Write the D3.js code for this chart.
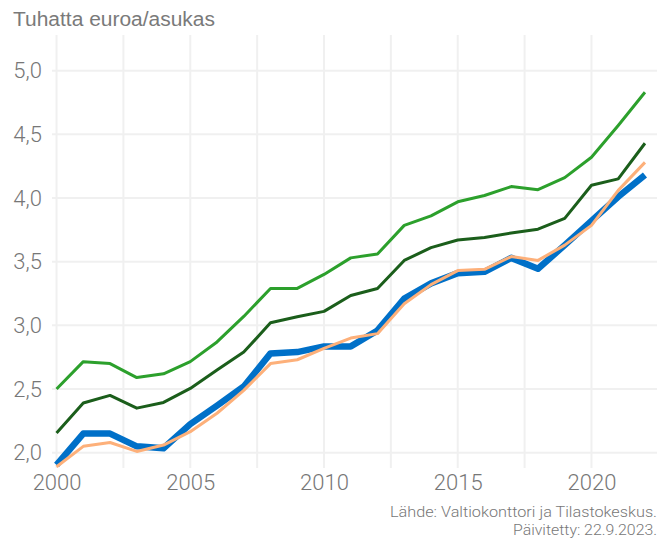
<!DOCTYPE html>
<html>
<head>
<meta charset="utf-8">
<script src="https://cdn.jsdelivr.net/npm/d3@7"></script>
<style>
  body { margin: 0; background: #fff; }
  svg { display: block; }
</style>
</head>
<body>
<div id="chart"></div>
<script>
// Vuodet ja sarjat
const years = d3.range(2000, 2023);
const seriesLightGreen = [2.50, 2.715, 2.70, 2.59, 2.62, 2.715, 2.87, 3.07, 3.29, 3.29, 3.40, 3.53, 3.56, 3.785, 3.86, 3.97, 4.02, 4.09, 4.065, 4.16, 4.32, 4.57, 4.83];
const seriesDarkGreen = [2.155, 2.39, 2.45, 2.35, 2.395, 2.505, 2.65, 2.79, 3.02, 3.067, 3.11, 3.235, 3.29, 3.51, 3.61, 3.67, 3.69, 3.725, 3.755, 3.84, 4.10, 4.15, 4.43];
const seriesBlue = [1.905, 2.15, 2.15, 2.05, 2.035, 2.225, 2.37, 2.52, 2.78, 2.79, 2.835, 2.835, 2.96, 3.21, 3.33, 3.41, 3.42, 3.53, 3.445, 3.63, 3.82, 4.01, 4.18];
const seriesPeach = [1.89, 2.05, 2.08, 2.01, 2.06, 2.165, 2.31, 2.49, 2.70, 2.73, 2.82, 2.90, 2.935, 3.17, 3.32, 3.43, 3.44, 3.54, 3.51, 3.63, 3.785, 4.06, 4.28];
const yTicks = [2.0, 2.5, 3.0, 3.5, 4.0, 4.5, 5.0];
const xTicks = [2000, 2005, 2010, 2015, 2020];
const xMinor = [2002.5, 2007.5, 2012.5, 2017.5];

const W = 666, H = 541;
const panel = {left: 52, right: 657, top: 35, bottom: 468};

const svg = d3.select("#chart").append("svg")
    .attr("width", W)
    .attr("height", H);

let x = d3.scaleLinear()
    .domain([1999.83, 2022.45])
    .range([panel.left, panel.right]);

let y = d3.scaleLinear()
    .domain([1.88, 5.28])
    .range([panel.bottom, panel.top]);

// Ruudukko
svg.append("g")
    .selectAll("line")
    .data(xTicks.concat(xMinor))
    .join("line")
        .attr("x1", d => x(d)).attr("x2", d => x(d))
        .attr("y1", panel.top).attr("y2", panel.bottom)
        .attr("stroke", "#f0f0f0")
        .attr("stroke-width", 2);

svg.append("g")
    .selectAll("line")
    .data(yTicks)
    .join("line")
        .attr("x1", panel.left).attr("x2", panel.right)
        .attr("y1", d => y(d)).attr("y2", d => y(d))
        .attr("stroke", "#f0f0f0")
        .attr("stroke-width", 2);

// Akselit
const fmt = d => d3.format(".1f")(d).replace(".", ",");

let yAxis = svg.append("g")
    .attr("transform", "translate(" + panel.left + ",0)")
    .call(d3.axisLeft(y).tickValues(yTicks).tickFormat(fmt).tickSize(0).tickPadding(10));

let xAxis = svg.append("g")
    .attr("transform", "translate(0," + panel.bottom + ")")
    .call(d3.axisBottom(x).tickValues(xTicks).tickFormat(d3.format("d")).tickSize(0).tickPadding(6));

svg.selectAll(".domain").remove();
svg.selectAll(".tick text")
    .attr("fill", "#777")
    .attr("font-family", "Roboto, sans-serif")
    .attr("font-weight", 300)
    .attr("font-size", 22);

// Viivat
const line = d3.line()
    .x((d, i) => x(years[i]))
    .y(d => y(d));

function addLine(data, color, width) {
    svg.append("path")
        .datum(data)
        .attr("fill", "none")
        .attr("stroke", color)
        .attr("stroke-width", width)
        .attr("stroke-linejoin", "round")
        .attr("d", line);
}

addLine(seriesBlue, "#0070c8", 6.5);
addLine(seriesPeach, "#fdb07a", 3);
addLine(seriesDarkGreen, "#1b5e1b", 3);
addLine(seriesLightGreen, "#2ca02c", 3);

// Otsikko ja lähde
svg.append("text")
    .attr("x", 13).attr("y", 26)
    .attr("fill", "#7a7a7a")
    .attr("font-family", "Liberation Sans, Arial, sans-serif")
    .attr("font-size", 20)
    .attr("textLength", 202)
    .attr("lengthAdjust", "spacingAndGlyphs")
    .text("Tuhatta euroa/asukas");

svg.append("text")
    .attr("x", 657).attr("y", 517)
    .attr("text-anchor", "end")
    .attr("fill", "#777")
    .attr("font-family", "Roboto, sans-serif")
    .attr("font-weight", 300)
    .attr("font-size", 14.5)
    .attr("textLength", 267)
    .attr("lengthAdjust", "spacingAndGlyphs")
    .text("Lähde: Valtiokonttori ja Tilastokeskus.");

svg.append("text")
    .attr("x", 657).attr("y", 535)
    .attr("text-anchor", "end")
    .attr("fill", "#777")
    .attr("font-family", "Roboto, sans-serif")
    .attr("font-weight", 300)
    .attr("font-size", 14.5)
    .attr("textLength", 144)
    .attr("lengthAdjust", "spacingAndGlyphs")
    .text("Päivitetty: 22.9.2023.");
</script>
</body>
</html>
